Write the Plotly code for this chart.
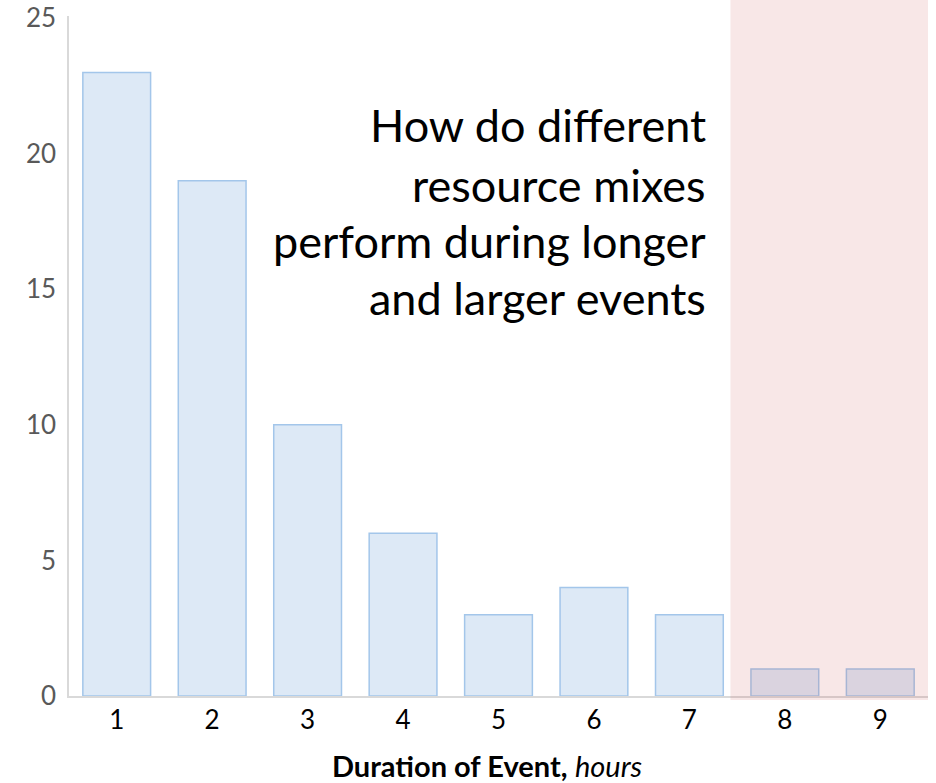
import plotly.graph_objects as go

durations = ["1", "2", "3", "4", "5", "6", "7", "8", "9"]
counts = [23, 19, 10, 6, 3, 4, 3, 1, 1]
y_ticks = [0, 5, 10, 15, 20, 25]
question_lines = ["How do different", "resource mixes", "perform during longer", "and larger events"]
x_title = "<b>Duration of Event,</b> <i>hours</i>"

FONT = "Lato"

fig = go.Figure()
fig.add_trace(go.Bar(
    x=list(range(1, 10)), y=counts,
    marker=dict(color="#DDE9F6", line=dict(color="#A3C6EA", width=1.5)),
    width=0.71,
))

# shaded highlight region for long events
fig.add_shape(type="rect", xref="x", yref="paper", x0=7.43, x1=9.5, y0=-0.006, y1=1.03,
              fillcolor="rgba(200,70,70,0.13)", line=dict(width=0), layer="above")

line_y = [0.840, 0.751, 0.669, 0.585]
for txt, yy in zip(question_lines, line_y):
    fig.add_annotation(text=txt, xref="paper", yref="paper", x=0.744, y=yy,
                       xanchor="right", yanchor="middle", showarrow=False,
                       font=dict(family=FONT, size=45, color="#000000"))

fig.add_annotation(text=x_title, xref="paper", yref="paper", x=0.487, y=-0.1015,
                   xanchor="center", yanchor="middle", showarrow=False,
                   font=dict(family=FONT, size=29, color="#000000"))

fig.update_layout(
    width=936, height=783,
    margin=dict(l=69, r=8, t=16, b=87),
    plot_bgcolor="white", paper_bgcolor="white",
    showlegend=False,
    font=dict(family=FONT),
)
fig.update_xaxes(
    range=[0.5, 9.5], tickmode="array", tickvals=list(range(1, 10)), ticktext=durations,
    showgrid=False, zeroline=False, showline=True, linecolor="#D9D9D9", linewidth=1.5,
    ticks="", tickfont=dict(family=FONT, size=26, color="#000000"), ticklabelstandoff=0,
    automargin=False,
)
fig.update_yaxes(
    range=[0, 25.08], tickmode="array", tickvals=y_ticks,
    showgrid=False, zeroline=False, showline=True, linecolor="#D9D9D9", linewidth=1.5,
    ticks="", tickfont=dict(family=FONT, size=26, color="#595959"), ticklabelstandoff=6,
    automargin=False,
)

fig.write_html("out.html", config={"displayModeBar": False},
               post_script="document.body.style.margin='0';document.body.style.overflow='hidden';")
